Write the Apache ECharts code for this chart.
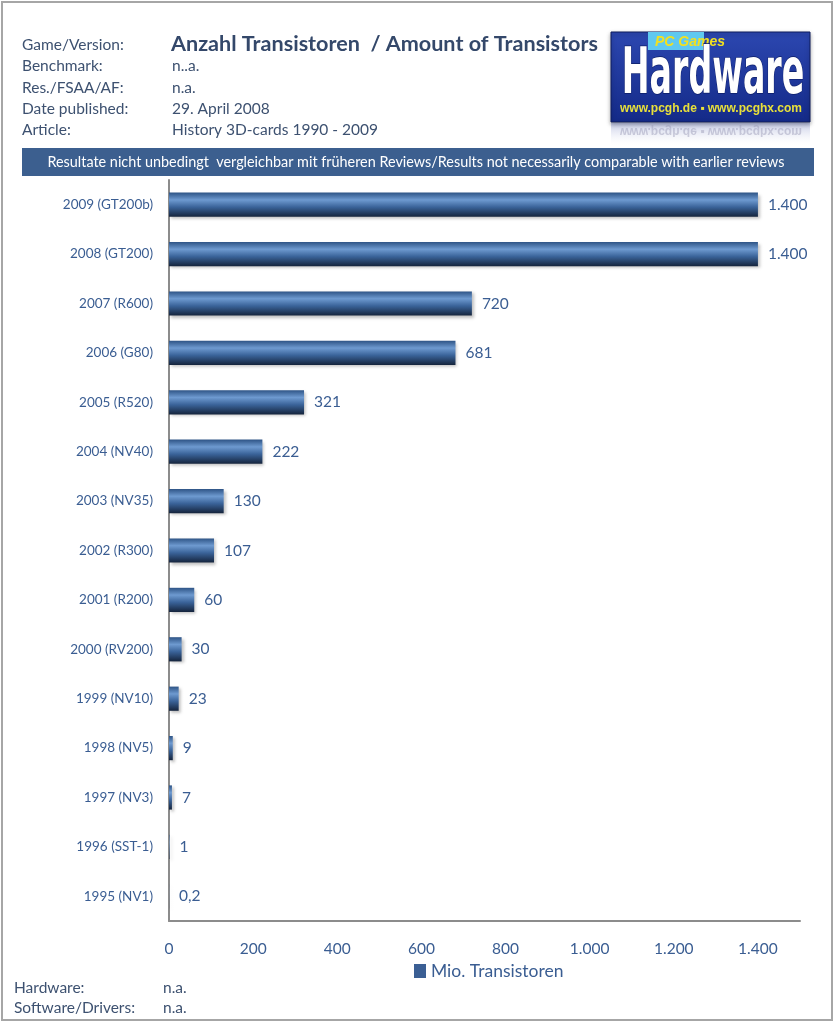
<!DOCTYPE html>
<html>
<head>
<meta charset="utf-8">
<script src="https://cdn.jsdelivr.net/npm/echarts@6/dist/echarts.min.js"></script>
<style>
  html, body { margin: 0; padding: 0; background: #fff; }
  #chart { width: 836px; height: 1024px; }
</style>
</head>
<body>
<div id="chart"></div>
<script>
  // Daten: Anzahl Transistoren (Mio.), von oben nach unten
  const categories = [
    "2009 (GT200b)", "2008 (GT200)", "2007 (R600)", "2006 (G80)", "2005 (R520)",
    "2004 (NV40)", "2003 (NV35)", "2002 (R300)", "2001 (R200)", "2000 (RV200)",
    "1999 (NV10)", "1998 (NV5)", "1997 (NV3)", "1996 (SST-1)", "1995 (NV1)"
  ];
  const transistors = [1400, 1400, 720, 681, 321, 222, 130, 107, 60, 30, 23, 9, 7, 1, 0.2];
  const xTicks = [0, 200, 400, 600, 800, 1000, 1200, 1400];

  const headerLabels = ["Game/Version:", "Benchmark:", "Res./FSAA/AF:", "Date published:", "Article:"];
  const headerValues = ["", "n..a.", "n.a.", "29. April 2008", "History 3D-cards 1990 - 2009"];
  const footerLabels = ["Hardware:", "Software/Drivers:"];
  const footerValues = ["n.a.", "n.a."];

  const FONT = "Lato, 'Open Sans', sans-serif";
  const TXT = "#3d5170";
  const BLUE = "#3a5d92";

  // deutsche Zahlenformatierung: 1.400 / 0,2
  function fmtDe(v) {
    return v.toLocaleString("de-DE", { maximumFractionDigits: 1 });
  }

  const gfx = [];
  // Rahmen
  gfx.push({ type: "rect", shape: { x: 2, y: 2, width: 830, height: 1018 },
    style: { fill: null, stroke: "#a6a6a6", lineWidth: 2 } });

  headerLabels.forEach((t, i) => {
    gfx.push({ type: "text", x: 22, y: 45 + i * 21.3,
      style: { text: t, font: "15.5px " + FONT, fill: TXT, verticalAlign: "middle" } });
    if (headerValues[i]) {
      gfx.push({ type: "text", x: 172, y: 45 + i * 21.3,
        style: { text: headerValues[i], font: "15.5px " + FONT, fill: TXT, verticalAlign: "middle" } });
    }
  });
  gfx.push({ type: "text", x: 171, y: 44,
    style: { text: "Anzahl Transistoren  / Amount of Transistors", font: "bold 21.6px " + FONT,
      fill: "#34486a", verticalAlign: "middle" } });

  // Banner
  gfx.push({ type: "rect", shape: { x: 22, y: 148, width: 792, height: 28 },
    style: { fill: "#3c5f8f" } });
  gfx.push({ type: "text", x: 416, y: 162,
    style: { text: "Resultate nicht unbedingt  vergleichbar mit früheren Reviews/Results not necessarily comparable with earlier reviews",
      font: "14.4px " + FONT, fill: "#ffffff", align: "center", verticalAlign: "middle" } });

  // Logo (PC Games Hardware)
  gfx.push({ type: "rect", shape: { x: 611, y: 32, width: 199, height: 90 },
    style: { fill: new echarts.graphic.LinearGradient(0, 0, 0, 1, [
      { offset: 0, color: "#2c47b0" }, { offset: 1, color: "#142a88" }]),
      stroke: "#0e1c5c", lineWidth: 1, shadowColor: "rgba(0,0,0,0.35)", shadowBlur: 4, shadowOffsetY: 2 } });
  gfx.push({ type: "rect", shape: { x: 648, y: 32, width: 56, height: 18 },
    style: { fill: "#5fc8f0" } });
  gfx.push({ type: "text", x: 655, y: 42,
    style: { text: "PC Games", font: "italic bold 14px 'Liberation Sans Narrow', sans-serif",
      fill: "#f2e020", verticalAlign: "middle" } });
  gfx.push({ type: "text", x: 713, y: 76, scaleX: 0.77, scaleY: 1.35,
    style: { text: "Hardware", font: "bold 48px 'Liberation Sans Narrow', 'DejaVu Sans Condensed', sans-serif",
      fill: "#ffffff", align: "center", verticalAlign: "middle", stroke: "#0d1e66", lineWidth: 1 } });
  gfx.push({ type: "text", x: 711, y: 109,
    style: { text: "www.pcgh.de \u25aa www.pcghx.com", font: "bold 12px 'Liberation Sans', sans-serif",
      fill: "#e8e03a", align: "center", verticalAlign: "middle" } });
  // Spiegelung
  gfx.push({ type: "rect", shape: { x: 611, y: 123, width: 199, height: 24 },
    style: { fill: new echarts.graphic.LinearGradient(0, 0, 0, 1, [
      { offset: 0, color: "rgba(60,80,170,0.3)" }, { offset: 1, color: "rgba(255,255,255,0)" }]) } });
  gfx.push({ type: "text", x: 711, y: 131, scaleY: -1,
    style: { text: "www.pcgh.de \u25aa www.pcghx.com", font: "bold 12px 'Liberation Sans', sans-serif",
      fill: "rgba(150,150,180,0.45)", align: "center", verticalAlign: "middle" } });

  footerLabels.forEach((t, i) => {
    gfx.push({ type: "text", x: 14, y: 988 + i * 20,
      style: { text: t, font: "15.5px " + FONT, fill: TXT, verticalAlign: "middle" } });
    gfx.push({ type: "text", x: 163, y: 988 + i * 20,
      style: { text: footerValues[i], font: "15.5px " + FONT, fill: TXT, verticalAlign: "middle" } });
  });

  const chart = echarts.init(document.getElementById("chart"), null, { renderer: "canvas" });
  chart.setOption({
    animation: false,
    backgroundColor: "#ffffff",
    grid: { left: 169, right: 36, top: 180, bottom: 103, containLabel: false },
    legend: {
      data: ["Mio. Transistoren"],
      left: 409, top: 957,
      itemWidth: 12, itemHeight: 14, itemGap: 5,
      icon: "rect",
      itemStyle: { color: "#3b5f94", shadowBlur: 0, shadowOffsetX: 0, shadowOffsetY: 0 },
      textStyle: { color: BLUE, fontSize: 17.5, fontFamily: FONT }
    },
    xAxis: {
      type: "value", min: 0, max: 1500, interval: 200,
      axisLine: { show: true, lineStyle: { color: "#8c8c8c", width: 2 } },
      axisTick: { show: false },
      splitLine: { show: false },
      axisLabel: {
        margin: 20, color: BLUE, fontSize: 15.5, fontFamily: FONT,
        formatter: (v) => (xTicks.indexOf(v) >= 0 ? fmtDe(v) : "")
      }
    },
    yAxis: {
      type: "category", inverse: true, data: categories,
      axisLine: { show: true, lineStyle: { color: "#8c8c8c", width: 2 } },
      axisTick: { show: false },
      axisLabel: { margin: 16, color: BLUE, fontSize: 13.5, fontFamily: FONT }
    },
    series: [{
      name: "Mio. Transistoren",
      type: "bar",
      data: transistors,
      barCategoryGap: "51%",
      itemStyle: {
        color: new echarts.graphic.LinearGradient(0, 0, 0, 1, [
          { offset: 0, color: "#2e5486" },
          { offset: 0.3, color: "#6e9ad0" },
          { offset: 0.6, color: "#3a6399" },
          { offset: 1, color: "#15243c" }
        ]),
        shadowColor: "rgba(0,0,0,0.25)", shadowBlur: 3, shadowOffsetX: 2, shadowOffsetY: 2
      },
      label: {
        show: true, position: "right", distance: 10,
        color: BLUE, fontSize: 15.5, fontFamily: FONT,
        formatter: (p) => fmtDe(p.value)
      }
    }],
    graphic: gfx
  });
</script>
</body>
</html>
